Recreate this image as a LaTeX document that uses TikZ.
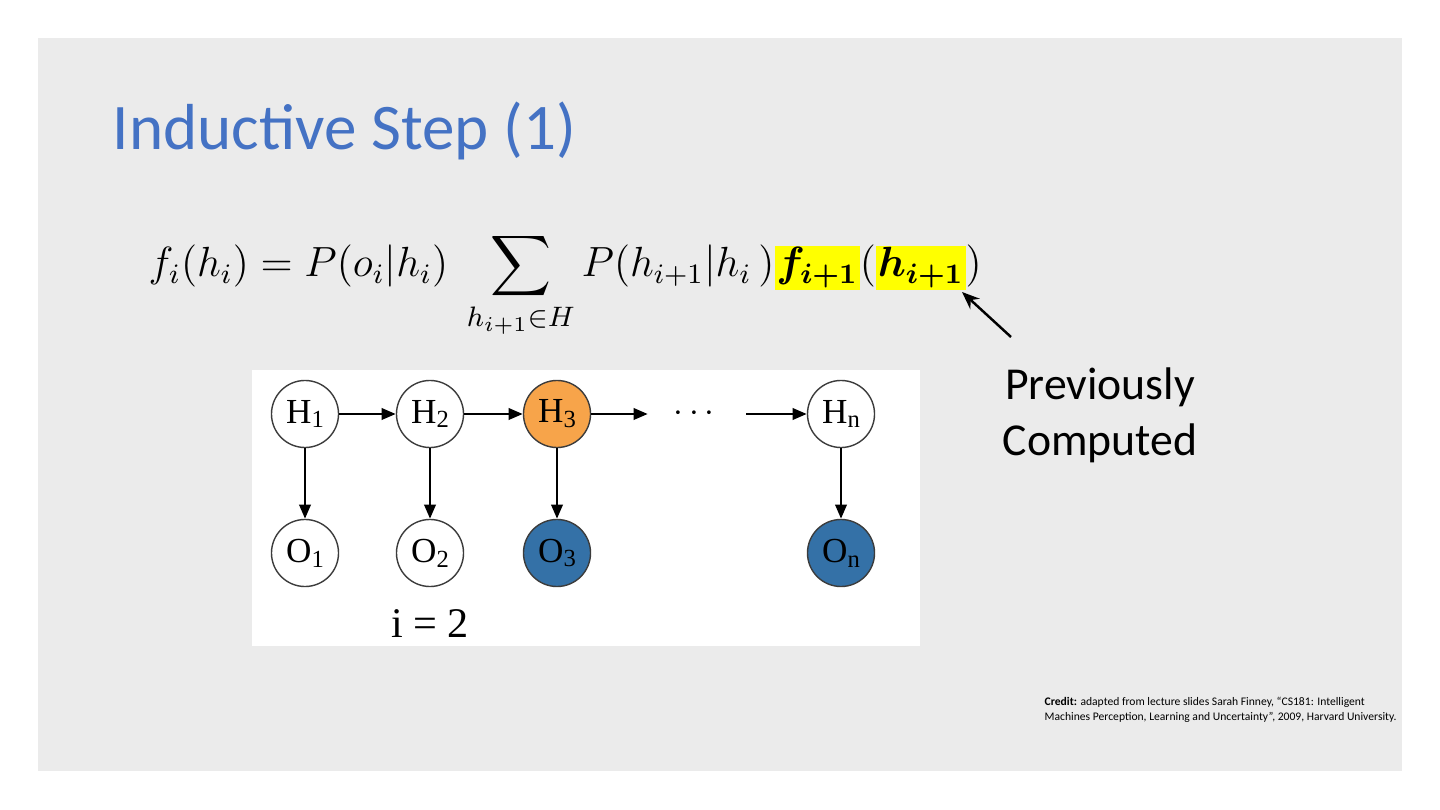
\documentclass[tikz,border=0pt]{standalone}
\usepackage{fontspec}
\usepackage{amsmath}
\usepackage{bm}
\setmainfont{Carlito}
\newfontfamily\hmmserif{Liberation Serif}
\usetikzlibrary{arrows.meta,positioning}
\definecolor{SlideGray}{RGB}{235,235,235}
\definecolor{SlideBlue}{RGB}{68,114,196}
\definecolor{HmmOrange}{RGB}{247,164,74}
\definecolor{HmmBlue}{RGB}{52,113,167}
\definecolor{HmmEdge}{RGB}{60,60,60}
\definecolor{MarkYellow}{RGB}{255,255,0}
\newcommand{\hlmark}[1]{{\setlength{\fboxsep}{0.5pt}\colorbox{MarkYellow}{$#1$}}}
\newcommand{\hsub}[2]{#1\raisebox{-0.3ex}{\fontsize{7}{8}\selectfont #2}}
\tikzset{
  hmm/state/.style={
    circle,
    draw=HmmEdge,
    line width=0.4pt,
    fill=white,
    minimum size=0.67cm,
    inner sep=0pt,
    font=\hmmserif\fontsize{10}{12}\selectfont
  },
  hmm/current/.style={hmm/state, fill=HmmOrange},
  hmm/seen/.style={hmm/state, fill=HmmBlue},
  hmm/arrow/.style={-{Triangle[length=4pt,width=3.2pt]}, line width=0.75pt, draw=black},
  hmm/pointer/.style={-{Stealth[length=5pt,width=4pt]}, line width=0.7pt, draw=black},
  slide/title/.style={font=\fontsize{18.5}{22}\selectfont, text=SlideBlue, inner sep=0pt},
  slide/body/.style={font=\fontsize{13}{16}\selectfont, align=center, inner sep=0pt},
  slide/credit/.style={font=\fontsize{3.3}{4.2}\selectfont, align=left, inner sep=0pt}
}

\begin{document}
\begin{tikzpicture}[x=0.01cm,y=-0.01cm]
  \useasboundingbox (0,0) rectangle (1440,810);
  \fill[white] (0,0) rectangle (1440,810);
  \fill[SlideGray] (38,38) rectangle (1402,771);
  \node[slide/title,anchor=base west] (title) at (112,150) {Inductive Step (1)};
  \node[anchor=base west,inner sep=0pt,font=\fontsize{12}{14}\selectfont] (eq) at (148,277)
    {$\displaystyle f_i(h_i) = P(o_i|h_i)\; \sum_{h_{i+1}\in H} P(h_{i+1}|h_i\,)\hlmark{\bm{f}_{\bm{i+1}}}(\hlmark{\bm{h}_{\bm{i+1}}})$};
  \coordinate (tip) at (962,292);
  \coordinate (tail) at (1011,337);
  \draw[hmm/pointer] (tail) -- (tip);
  \node[slide/body] (prev) at (1100,415) {Previously\\Computed};
  % the chain
  \fill[white] (252,370) rectangle (920,646);
  \node[hmm/state] (h1) at (305,414) {\hsub{H}{1}};
  \node[hmm/state] (h2) at (430,414) {\hsub{H}{2}};
  \node[hmm/current] (h3) at (557,414) {\hsub{H}{3}};
  \node[inner sep=0pt,minimum width=0.97cm,font=\hmmserif\fontsize{10}{12}\selectfont] (dots) at (697,414) {$\cdots$};
  \node[hmm/state] (hn) at (841,414) {\hsub{H}{n}};
  \node[hmm/state] (o1) at (305,553) {\hsub{O}{1}};
  \node[hmm/state] (o2) at (430,553) {\hsub{O}{2}};
  \node[hmm/seen] (o3) at (557,553) {\hsub{O}{3}};
  \node[hmm/seen] (on) at (841,553) {\hsub{O}{n}};
  \draw[hmm/arrow] (h1) -- (h2);
  \draw[hmm/arrow] (h2) -- (h3);
  \draw[hmm/arrow] (h3) -- (dots);
  \draw[hmm/arrow] (dots) -- (hn);
  \draw[hmm/arrow] (h1) -- (o1);
  \draw[hmm/arrow] (h2) -- (o2);
  \draw[hmm/arrow] (h3) -- (o3);
  \draw[hmm/arrow] (hn) -- (on);
  \node[font=\hmmserif\fontsize{12}{14}\selectfont,inner sep=0pt] (step) at (430,624) {i = 2};
  \node[slide/credit,anchor=base west] (credit) at (1044,720)
    {\textbf{Credit:} adapted from lecture slides Sarah Finney, “CS181: Intelligent\\Machines Perception, Learning and Uncertainty”, 2009, Harvard University.};
\end{tikzpicture}
\end{document}
